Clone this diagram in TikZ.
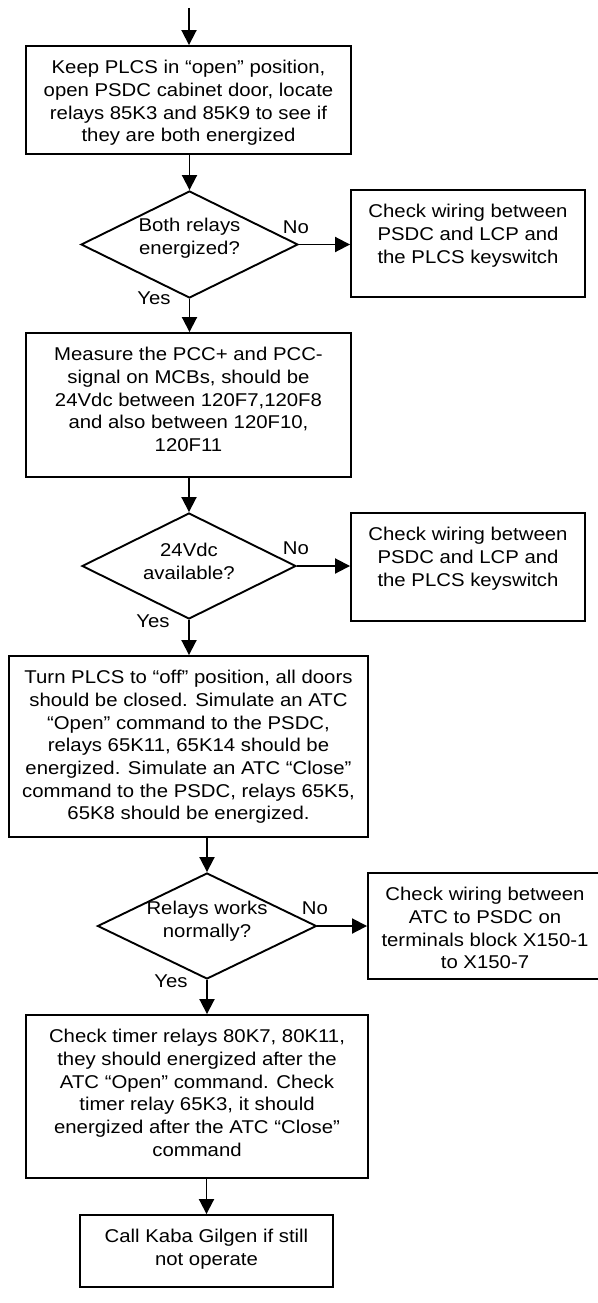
\documentclass[tikz,border=0pt]{standalone}
\usepackage{fontspec}
\setmainfont{Liberation Sans}[FakeStretch=1.1]
\usetikzlibrary{shapes.geometric,arrows.meta}
\tikzset{
  boxshape/.style={draw, line width=1.9pt, rectangle, inner sep=0pt},
  decision/.style={draw, line width=1.9pt, diamond, inner sep=0pt},
  txt/.style={inner sep=0pt, align=center, font=\fontsize{18.5}{22.7}\selectfont},
  boxtxt/.style={txt, anchor=north},
  lab/.style={inner sep=0pt, font=\fontsize{18.5}{22.7}\selectfont},
  arr/.style={line width=1.9pt, -{Triangle[length=15pt,width=15pt]}},
}
\begin{document}
\begin{tikzpicture}[x=1pt,y=-1pt]
\useasboundingbox (0,0) rectangle (597,1303);
% boxes
\node[boxshape, minimum width=325pt, minimum height=108pt] (b1) at (188.5,100) {};
\node[boxshape, minimum width=325pt, minimum height=144pt] (b2) at (188.5,405) {};
\node[boxshape, minimum width=359pt, minimum height=181pt] (b3) at (188.5,746.5) {};
\node[boxshape, minimum width=342pt, minimum height=163pt] (b4) at (197,1096.5) {};
\node[boxshape, minimum width=253pt, minimum height=72pt] (b5) at (206.5,1251) {};
\node[boxshape, minimum width=234pt, minimum height=107pt] (r1) at (468,243.5) {};
\node[boxshape, minimum width=234pt, minimum height=108pt] (r2) at (468,567) {};
\node[boxshape, minimum width=232pt, minimum height=106pt] (r3) at (484,926) {};
% diamonds
\node[decision, minimum width=217pt, minimum height=107pt] (d1) at (189.5,244.5) {};
\node[decision, minimum width=214pt, minimum height=106pt] (d2) at (189,566) {};
\node[decision, minimum width=219pt, minimum height=106pt] (d3) at (207,926) {};
% box texts
\node[boxtxt] (t1) at (188.5,60) {Keep PLCS in “open” position,\\open PSDC cabinet door, locate\\relays 85K3 and 85K9 to see if\\they are both energized};
\node[boxtxt] (t2) at (188.5,347) {Measure the PCC+ and PCC-\\signal on MCBs, should be\\24Vdc between 120F7,120F8\\and also between 120F10,\\120F11};
\node[boxtxt] (t3) at (188.5,670) {Turn PLCS to “off” position, all doors\\should be closed. Simulate an ATC\\“Open” command to the PSDC,\\relays 65K11, 65K14 should be\\energized. Simulate an ATC “Close”\\command to the PSDC, relays 65K5,\\65K8 should be energized.};
\node[boxtxt] (t4) at (197,1029) {Check timer relays 80K7, 80K11,\\they should energized after the\\ATC “Open” command. Check\\timer relay 65K3, it should\\energized after the ATC “Close”\\command};
\node[boxtxt] (t5) at (206.5,1229) {Call Kaba Gilgen if still\\not operate};
\node[boxtxt] (s1) at (468,204) {Check wiring between\\PSDC and LCP and\\the PLCS keyswitch};
\node[boxtxt] (s2) at (468,527) {Check wiring between\\PSDC and LCP and\\the PLCS keyswitch};
\node[boxtxt] (s3) at (485,887) {Check wiring between\\ATC to PSDC on\\terminals block X150-1\\to X150-7};
% diamond texts
\node[txt] (q1) at (189.5,238) {Both relays\\energized?};
\node[txt] (q2) at (189,561.5) {24Vdc\\available?};
\node[txt] (q3) at (207,921) {Relays works\\normally?};
% labels
\node[lab] (n1) at (296,227) {No};
\node[lab] (n2) at (296,548) {No};
\node[lab] (n3) at (315,908) {No};
\node[lab] (y1) at (154,298) {Yes};
\node[lab] (y2) at (153,621) {Yes};
\node[lab] (y3) at (171,981) {Yes};
% connectors
\coordinate (start) at (189,8);
\draw[arr] (start) -- (start |- b1.north);
\draw[arr] (b1.south -| d1.north) -- (d1.north);
\draw[arr] (d1.east) -- (d1.east -| r1.west);
\draw[arr] (d1.south) -- (d1.south |- b2.north);
\draw[arr] (b2.south -| d2.north) -- (d2.north);
\draw[arr] (d2.east) -- (d2.east -| r2.west);
\draw[arr] (d2.south) -- (d2.south |- b3.north);
\draw[arr] (b3.south -| d3.north) -- (d3.north);
\draw[arr] (d3.east) -- (d3.east -| r3.west);
\draw[arr] (d3.south) -- (d3.south |- b4.north);
\draw[arr] (b4.south -| b5.north) -- (b5.north);
\end{tikzpicture}
\end{document}
